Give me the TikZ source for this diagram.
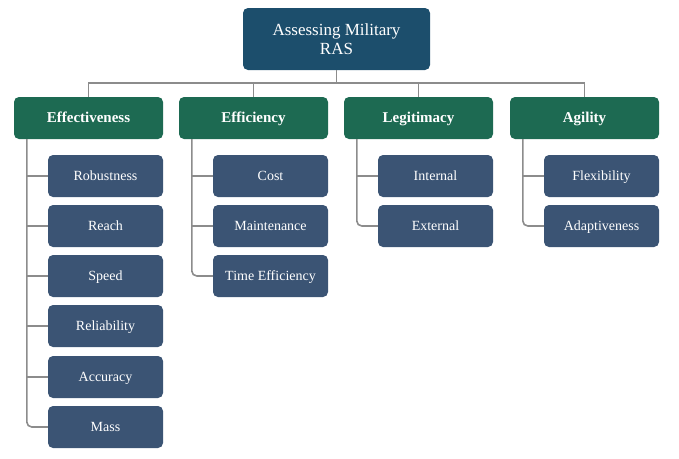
\documentclass[tikz,border=0pt]{standalone}
\usepackage{fontspec}
\setmainfont{Liberation Serif}
\definecolor{rootc}{HTML}{1C4E6C}
\definecolor{catc}{HTML}{1D6A52}
\definecolor{subc}{HTML}{3B5474}
\definecolor{linec}{HTML}{8C8C8C}
\tikzset{
  box/.style={draw=none, rounded corners=5pt, text=white, inner sep=2pt},
  rootbox/.style={box, align=center, fill=rootc, minimum width=187pt, minimum height=62pt, font=\fontsize{17}{19}\selectfont},
  catbox/.style={box, fill=catc, minimum width=149pt, minimum height=42pt, text height=10.5pt, text depth=2pt, font=\fontsize{15}{17}\selectfont\bfseries},
  subbox/.style={box, fill=subc, minimum width=115pt, minimum height=42pt, text height=10pt, text depth=2pt, font=\fontsize{14}{16}\selectfont},
  conn/.style={draw=linec, line width=1.6pt},
}
\begin{document}
\begin{tikzpicture}[x=1pt,y=1pt]
\useasboundingbox (0,0) rectangle (679,-458);
\node[rootbox] (root) at (336.5,-39) {Assessing Military\\RAS};
\node[catbox] (eff) at (88.5,-118) {Effectiveness};
\node[catbox] (efc) at (253.5,-118) {Efficiency};
\node[catbox] (leg) at (418.5,-118) {Legitimacy};
\node[catbox] (agi) at (584.5,-118) {Agility};
% Effectiveness children
\node[subbox] (rob) at (105.5,-176) {Robustness};
\node[subbox] (rea) at (105.5,-226) {Reach};
\node[subbox] (spe) at (105.5,-276) {Speed};
\node[subbox] (rel) at (105.5,-326) {Reliability};
\node[subbox] (acc) at (105.5,-377) {Accuracy};
\node[subbox] (mas) at (105.5,-427) {Mass};
% Efficiency children
\node[subbox] (cos) at (270.5,-176) {Cost};
\node[subbox] (mai) at (270.5,-226) {Maintenance};
\node[subbox] (tim) at (270.5,-276) {Time Efficiency};
% Legitimacy children
\node[subbox] (int) at (435.5,-176) {Internal};
\node[subbox] (ext) at (435.5,-226) {External};
% Agility children
\node[subbox] (fle) at (601.5,-176) {Flexibility};
\node[subbox] (ada) at (601.5,-226) {Adaptiveness};
% top connectors
\coordinate (bus) at (0,-83);
\draw[conn] (root.south) -- (root.south |- bus);
\draw[conn] (eff.north) -- (eff.north |- bus) -- (agi.north |- bus) -- (agi.north);
\draw[conn] (efc.north) -- (efc.north |- bus);
\draw[conn] (leg.north) -- (leg.north |- bus);
% trunks
\coordinate (teff) at ([xshift=13pt]eff.south west);
\coordinate (tefc) at ([xshift=13pt]efc.south west);
\coordinate (tleg) at ([xshift=13pt]leg.south west);
\coordinate (tagi) at ([xshift=13pt]agi.south west);
\draw[conn, rounded corners=5pt] (teff) |- (mas.west);
\foreach \c in {rob,rea,spe,rel,acc} \draw[conn] (\c.west) -- (\c.west -| teff);
\draw[conn, rounded corners=5pt] (tefc) |- (tim.west);
\foreach \c in {cos,mai} \draw[conn] (\c.west) -- (\c.west -| tefc);
\draw[conn, rounded corners=5pt] (tleg) |- (ext.west);
\draw[conn] (int.west) -- (int.west -| tleg);
\draw[conn, rounded corners=5pt] (tagi) |- (ada.west);
\draw[conn] (fle.west) -- (fle.west -| tagi);
\end{tikzpicture}
\end{document}
